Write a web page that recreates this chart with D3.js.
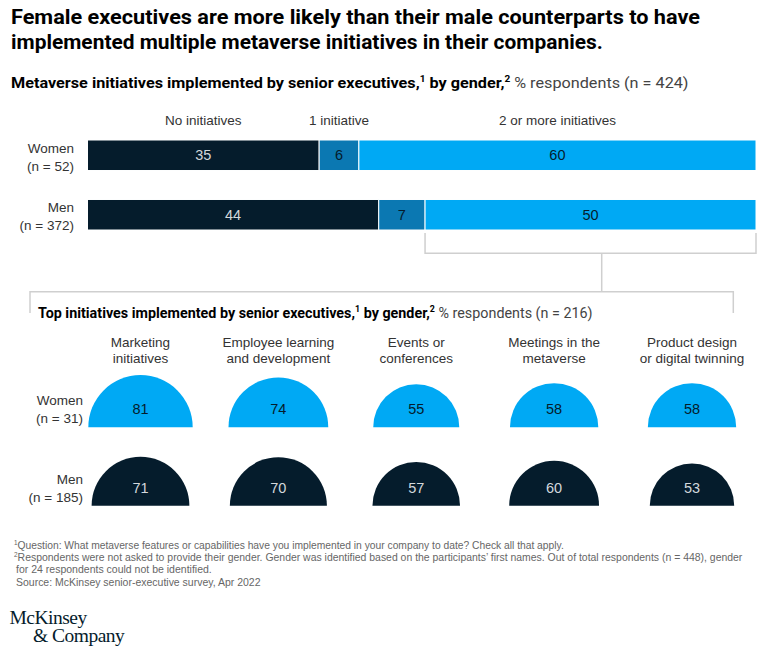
<!DOCTYPE html>
<html><head><meta charset="utf-8">
<script src="https://cdn.jsdelivr.net/npm/d3@7"></script>
<style>body{margin:0;background:#fff} svg{display:block}</style>
</head><body><svg id="c" width="768" height="661"></svg>
<script>
// ---------- data ----------
const barCategories = ["No initiatives", "1 initiative", "2 or more initiatives"];
const barGroups = ["Women", "Men"];
const barGroupN = ["(n = 52)", "(n = 372)"];
const womenShares = [35, 6, 60];
const menShares = [44, 7, 50];

const initiatives = ["Marketing|initiatives", "Employee learning|and development", "Events or|conferences", "Meetings in the|metaverse", "Product design|or digital twinning"];
const topGroups = ["Women", "Men"];
const topGroupN = ["(n = 31)", "(n = 185)"];
const womenTop = [81, 74, 55, 58, 58];
const menTop = [71, 70, 57, 60, 53];

// ---------- styles ----------
const NAVY = "#051c2c", MID = "#0b78b2", CYAN = "#00a9f4";
const segColors = [NAVY, MID, CYAN];
const segText = ["#d3d8dc", NAVY, NAVY];
const LINE = "#cfcfcf";
const BODY = "Liberation Sans, Arial, sans-serif";
const HEAD = "Roboto, Liberation Sans, sans-serif";

const svg = d3.select("#c");
svg.append("rect").attr("width", 768).attr("height", 661).attr("fill", "#fff");

function fit(sel, x0, target) {
  const w = sel.node().getBBox().width;
  const k = target / w;
  sel.attr("transform", `translate(${x0},0) scale(${k},1) translate(${-x0},0)`);
}

// ---------- title ----------
const t1 = svg.append("text").attr("x", 11).attr("y", 24).attr("font-family", HEAD).attr("font-weight", 700)
  .attr("font-size", 19.5).attr("fill", "#000").text("Female executives are more likely than their male counterparts to have");
fit(t1, 11, 690);
const t2 = svg.append("text").attr("x", 11).attr("y", 49).attr("font-family", HEAD).attr("font-weight", 700)
  .attr("font-size", 19.5).attr("fill", "#000").text("implemented multiple metaverse initiatives in their companies.");
fit(t2, 11, 592);

function subtitle(x, y, nText, target) {
  const s = svg.append("text").attr("x", x).attr("y", y).attr("font-family", HEAD).attr("font-size", 14.5).attr("fill", "#000");
  s.append("tspan").attr("font-weight", 700).text(nText[0]);
  s.append("tspan").attr("font-size", 9).attr("dy", -6).attr("font-weight", 700).text("1");
  s.append("tspan").attr("dy", 6).attr("font-weight", 700).text(" by gender,");
  s.append("tspan").attr("font-size", 9).attr("dy", -6).attr("font-weight", 700).text("2");
  s.append("tspan").attr("dy", 6).attr("font-weight", 400).attr("fill", "#444").text(" " + nText[1]);
  fit(s, x, target);
}
subtitle(11, 88, ["Metaverse initiatives implemented by senior executives,", "% respondents (n = 424)"], 678);

// ---------- stacked bars ----------
const x = d3.scaleLinear().domain([0, d3.sum(womenShares)]).range([87.5, 756]);
const yb = d3.scaleBand().domain(barGroups).range([140, 230]).paddingInner(0.487);
const rows = barGroups.map((g, i) => {
  const vals = i === 0 ? womenShares : menShares;
  const o = { group: g };
  barCategories.forEach((c, j) => o[c] = vals[j]);
  return o;
});
const series = d3.stack().keys(barCategories)(rows);

series.forEach((s, j) => {
  const g = svg.append("g");
  g.selectAll("rect").data(s).join("rect")
    .attr("x", d => x(d[0])).attr("y", d => yb(d.data.group))
    .attr("width", d => x(d[1]) - x(d[0])).attr("height", yb.bandwidth())
    .attr("fill", segColors[j]).attr("stroke", "#fff").attr("stroke-width", 1);
  g.selectAll("text").data(s).join("text")
    .attr("x", d => (x(d[0]) + x(d[1])) / 2).attr("y", d => yb(d.data.group) + yb.bandwidth() / 2 + 5)
    .attr("text-anchor", "middle").attr("font-family", BODY).attr("font-size", 14.5)
    .attr("fill", segText[j]).text(d => d[1] - d[0]);
  // header
  const w0 = s[0];
  svg.append("text").attr("x", (x(w0[0]) + x(w0[1])) / 2).attr("y", 125)
    .attr("text-anchor", "middle").attr("font-family", BODY).attr("font-size", 13.5).attr("fill", "#333")
    .text(barCategories[j]);
});

barGroups.forEach((g, i) => {
  const y0 = yb(g);
  const t = svg.append("text").attr("text-anchor", "end").attr("font-family", BODY).attr("font-size", 13.5).attr("fill", "#333");
  t.append("tspan").attr("x", 74).attr("y", y0 + 13).text(g);
  t.append("tspan").attr("x", 74).attr("y", y0 + 31).text(barGroupN[i]);
});

// ---------- bracket connector ----------
const bx0 = x(menShares[0] + menShares[1]), bx1 = x(d3.sum(menShares));
const bTop = yb("Men") + yb.bandwidth() + 3, bBot = 253.3, midX = 601.7, boxY = 291.7;
svg.append("path").attr("fill", "none").attr("stroke", LINE).attr("stroke-width", 1.5)
  .attr("d", `M${bx0},${bTop}V${bBot}H${bx1}V${bTop}M${midX},${bBot}V${boxY}`);
svg.append("path").attr("fill", "none").attr("stroke", LINE).attr("stroke-width", 1.5)
  .attr("d", `M30,313V${boxY}H733.3V313`);

subtitle(38, 318, ["Top initiatives implemented by senior executives,", "% respondents (n = 216)"], 555);

// ---------- semicircles ----------
const xp = d3.scalePoint().domain(initiatives).range([140.5, 692]);
const yr = d3.scalePoint().domain(topGroups).range([427.3, 505.7]);
const r = d3.scaleSqrt().domain([0, 100]).range([0, 58]);
const arc = d3.arc().innerRadius(0).startAngle(-Math.PI / 2).endAngle(Math.PI / 2);

initiatives.forEach(c => {
  const t = svg.append("text").attr("text-anchor", "middle").attr("font-family", BODY).attr("font-size", 13.5).attr("fill", "#333");
  c.split("|").forEach((ln, k) => t.append("tspan").attr("x", xp(c)).attr("y", 347 + k * 15.5).text(ln));
});

topGroups.forEach((g, i) => {
  const vals = i === 0 ? womenTop : menTop;
  const fill = i === 0 ? CYAN : NAVY;
  const tc = i === 0 ? NAVY : "#d3d8dc";
  const grp = svg.append("g");
  grp.selectAll("path").data(vals).join("path")
    .attr("transform", (d, k) => `translate(${xp(initiatives[k])},${yr(g)})`)
    .attr("d", d => arc({ outerRadius: r(d) })).attr("fill", fill);
  grp.selectAll("text").data(vals).join("text")
    .attr("x", (d, k) => xp(initiatives[k])).attr("y", yr(g) - 13)
    .attr("text-anchor", "middle").attr("font-family", BODY).attr("font-size", 14.5).attr("fill", tc).text(d => d);
  const t = svg.append("text").attr("text-anchor", "end").attr("font-family", BODY).attr("font-size", 13.5).attr("fill", "#333");
  t.append("tspan").attr("x", 83).attr("y", yr(g) - 22).text(g);
  t.append("tspan").attr("x", 83).attr("y", yr(g) - 4).text(topGroupN[i]);
});

// ---------- footnotes ----------
const notes = [
  { sup: "1", text: "Question: What metaverse features or capabilities have you implemented in your company to date? Check all that apply.", x: 14, w: 551 },
  { sup: "2", text: "Respondents were not asked to provide their gender. Gender was identified based on the participants\u2019 first names. Out of total respondents (n = 448), gender", x: 14, w: 729 },
  { sup: "", text: "for 24 respondents could not be identified.", x: 16, w: 196 },
  { sup: "", text: "Source: McKinsey senior-executive survey, Apr 2022", x: 16, w: 245 }
];
notes.forEach((n, i) => {
  const t = svg.append("text").attr("x", n.x).attr("y", 549 + i * 12.2).attr("font-family", BODY).attr("font-size", 10.5).attr("fill", "#666");
  if (n.sup) {
    t.append("tspan").attr("font-size", 6.5).attr("dy", -4).text(n.sup);
    t.append("tspan").attr("dy", 4).text(n.text);
  } else t.append("tspan").text(n.text);
  fit(t, n.x, n.w);
});

// ---------- logo ----------
const logo = svg.append("text").attr("font-family", "Liberation Serif, Times New Roman, serif").attr("font-size", 19.5).attr("fill", NAVY).attr("letter-spacing", -0.5);
logo.append("tspan").attr("x", 9.5).attr("y", 624).text("McKinsey");
logo.append("tspan").attr("x", 33).attr("y", 642).text("& Company");
</script></body></html>
